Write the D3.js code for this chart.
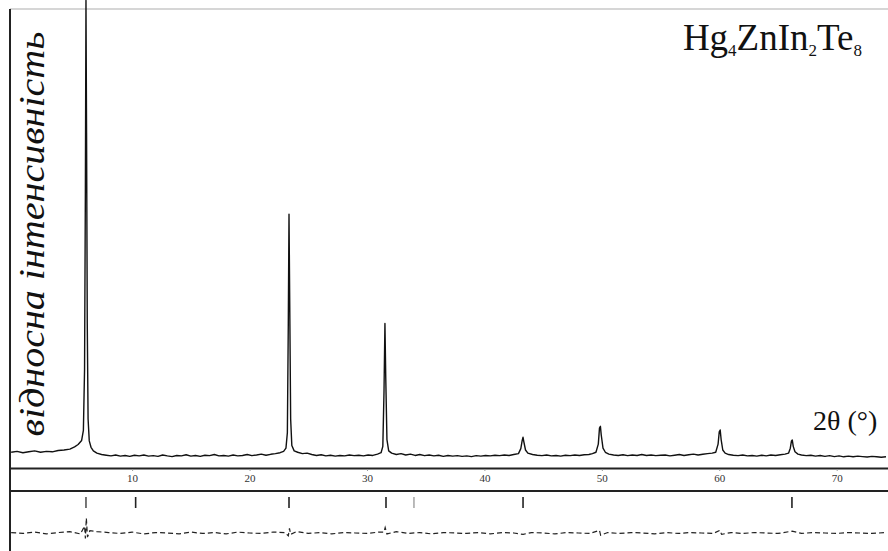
<!DOCTYPE html>
<html><head><meta charset="utf-8">
<script src="https://cdn.jsdelivr.net/npm/d3@7"></script>
<style>html,body{margin:0;padding:0;background:#fff;}svg{display:block;}</style>
</head><body>
<svg id="chart" width="888" height="551"></svg>
<script>
// ---- data ----
const tickLabels = [10, 20, 30, 40, 50, 60, 70];
const compound = ["Hg", "4", "Zn", "In", "2", "Te", "8"];
const yTitle = "відносна інтенсивність";
const xTitle = "2θ (°)";
// observed pattern [2θ, relative intensity]
const observed = [
 [-0.3,1.7],[0.2,1.9],[0.7,1.6],[1.2,1.8],[1.7,2.0],[2.2,1.7],[2.7,1.9],[3.2,1.8],[3.7,2.1],[4.2,2.2],[4.7,2.4],[5.1,2.9],[5.4,3.4],[5.7,4.3],[5.85,6.5],[5.95,20],[6.02,60],[6.07,101],[6.12,72],[6.18,30],[6.25,9],[6.35,4.2],[6.5,2.8],[6.7,2.0],
 [7.0,1.5],[7.4,1.2],[7.8,1.05],[8.2,0.9],[8.6,1.1],[9.0,0.85],[9.4,1.0],[9.8,0.8],[10.2,1.05],[10.6,0.9],[11.0,1.1],[11.4,0.85],[11.8,0.95],[12.2,0.8],[12.6,1.1],[13.0,0.9],[13.4,0.75],[13.8,1.0],[14.2,0.9],[14.6,1.15],[15.0,0.85],[15.4,1.0],[15.8,0.8],[16.2,1.05],[16.6,0.95],[17.0,1.2],[17.4,0.9],[17.8,1.0],[18.2,0.85],[18.6,1.1],[19.0,0.9],[19.4,1.0],[19.8,1.2],[20.2,0.95],[20.6,1.1],[21.0,1.3],[21.4,1.05],[21.8,1.25],[22.2,1.4],[22.6,1.6],[22.9,1.9],
 [23.1,2.6],[23.22,6],[23.3,30],[23.36,54],[23.42,35],[23.5,9],[23.6,3.2],[23.8,2.0],[24.1,1.7],[24.5,1.4],[24.9,1.5],[25.3,1.2],[25.7,1.0],[26.1,1.15],[26.5,0.9],[26.9,1.05],[27.3,0.85],[27.7,1.0],[28.1,0.9],[28.5,1.1],[28.9,0.95],[29.3,1.05],[29.7,0.9],[30.1,1.1],[30.5,1.0],[30.9,1.3],[31.2,1.6],
 [31.35,3],[31.45,15],[31.53,30],[31.6,18],[31.7,4.5],[31.85,2.0],[32.1,1.5],[32.5,1.2],[32.9,1.4],[33.3,1.1],[33.7,1.3],[34.1,1.0],[34.5,1.2],[34.9,0.95],[35.3,1.1],[35.7,0.9],[36.1,1.05],[36.5,0.8],[36.9,1.0],[37.3,0.85],[37.7,0.95],[38.1,0.8],[38.5,0.9],[38.9,0.75],[39.3,0.95],[39.7,0.85],[40.1,1.0],[40.5,0.9],[40.9,1.05],[41.3,0.95],[41.7,1.1],[42.1,1.0],[42.5,1.2],[42.9,1.4],
 [43.1,2.5],[43.22,4.3],[43.29,5.0],[43.36,4.0],[43.5,2.2],[43.7,1.5],[44.1,1.2],[44.5,1.05],[44.9,0.95],[45.3,1.1],[45.7,0.9],[46.1,1.0],[46.5,0.85],[46.9,1.05],[47.3,0.95],[47.7,1.1],[48.1,1.0],[48.5,1.15],[48.9,1.2],[49.2,1.4],[49.5,1.7],
 [49.7,3.5],[49.8,7.0],[49.88,7.4],[49.95,5.5],[50.1,2.6],[50.3,1.7],[50.6,1.3],[51.0,1.1],[51.4,1.0],[51.8,1.15],[52.2,0.95],[52.6,1.1],[53.0,1.0],[53.4,1.2],[53.8,1.0],[54.2,1.1],[54.6,0.95],[55.0,1.05],[55.4,1.1],[55.8,0.9],[56.2,1.05],[56.6,1.2],[57.0,1.0],[57.4,1.15],[57.8,1.3],[58.2,1.1],[58.6,1.25],[59.0,1.4],[59.4,1.5],
 [59.7,1.7],[59.9,3.5],[60.0,6.2],[60.08,6.6],[60.16,4.5],[60.3,2.2],[60.5,1.5],[60.8,1.2],[61.2,1.05],[61.6,0.95],[62.0,1.1],[62.4,0.9],[62.8,1.0],[63.2,0.85],[63.6,1.05],[64.0,0.9],[64.4,1.1],[64.8,1.0],[65.2,1.15],[65.6,1.3],[65.9,1.5],
 [66.05,2.6],[66.15,4.2],[66.22,4.4],[66.3,3.0],[66.45,1.8],[66.7,1.3],[67.0,1.1],[67.4,0.95],[67.8,1.05],[68.2,0.85],[68.6,1.0],[69.0,0.8],[69.4,0.95],[69.8,0.75],[70.2,0.9],[70.6,0.7],[71.0,0.85],[71.4,0.7],[71.8,0.85],[72.2,0.75],[72.6,0.65],[73.0,0.8],[73.4,0.7],[73.8,0.6],[74.2,0.7]
];
// Bragg reflection positions [2θ] and shade
const braggPositions = [6.07, 10.30, 23.36, 31.62, 34.0, 43.29, 66.19];
const braggShade = ["#555", "#222", "#222", "#222", "#aaa", "#222", "#222"];
// difference curve [2θ, value]
const difference = [
 [-0.3,0.1],[0.7,-0.1],[1.7,0.2],[2.7,-0.2],[3.7,0.1],[4.7,0.3],[5.6,-0.2],[5.95,1.5],[6.02,-1.2],[6.1,3.3],[6.2,-0.9],[6.4,0.5],[7.0,0.3],[8,0.1],[9,-0.1],[10,0.2],[11,-0.2],[12,0.1],[13,0.0],[14,-0.2],[15,0.2],[16,-0.1],[17,0.1],[18,-0.2],[19,0.2],[20,0.0],[21,-0.1],[22,0.2],[23.0,0.1],
 [23.3,-0.6],[23.4,1.0],[23.5,-0.3],[24,0.3],[25,-0.1],[26,0.1],[27,-0.2],[28,0.1],[29,0.0],[30,-0.1],[31,0.2],[31.45,0.2],[31.55,1.2],[31.7,-0.2],[32.5,0.3],[33.5,-0.1],[34.5,0.1],[35.5,-0.2],[36.5,0.1],[37.5,0.0],[38.5,-0.1],[39.5,0.1],[40.5,-0.2],[41.5,0.1],[42.5,0.0],[43.3,-0.3],[44,0.1],[45,0.0],[46,-0.2],[47,0.1],[48,0.0],[49,-0.1],
 [49.8,0.6],[49.9,-0.5],[50.5,0.1],[51.5,-0.1],[52.5,0.1],[53.5,0.0],[54.5,-0.2],[55.5,0.1],[56.5,-0.1],[57.5,0.1],[58.5,0.0],[59.5,-0.1],[60.05,0.6],[60.2,-0.3],[61,0.1],[62,-0.1],[63,0.1],[64,0.0],[65,-0.1],[66.2,0.4],[67,-0.1],[68,0.1],[69,0.0],[70,-0.1],[71,0.1],[72,0.0],[73,-0.1],[74.2,0.1]
];

// ---- drawing ----
const svg = d3.select("#chart");
const x = d3.scaleLinear().domain([-0.4, 74.2]).range([10, 886]);
const y = d3.scaleLinear().domain([0, 100]).range([460, 5]);
const yd = d3.scaleLinear().domain([-3.3, 3.3]).range([548, 518]);

// frame
svg.append("line").attr("x1",10).attr("x2",888).attr("y1",9).attr("y2",9).attr("stroke","#c8c8c8").attr("stroke-width",1.5);
svg.append("line").attr("x1",10).attr("x2",10).attr("y1",9).attr("y2",551).attr("stroke","#222").attr("stroke-width",2);

// observed line
const line = d3.line().x(d => x(d[0])).y(d => y(d[1]));
svg.append("path").datum(observed).attr("d", line).attr("fill","none").attr("stroke","#111").attr("stroke-width",1.4).attr("stroke-linejoin","round");

// axis band lines
svg.append("line").attr("x1",10).attr("x2",888).attr("y1",468.5).attr("y2",468.5).attr("stroke","#222").attr("stroke-width",2);
svg.append("line").attr("x1",10).attr("x2",888).attr("y1",491).attr("y2",491).attr("stroke","#222").attr("stroke-width",2);

// x axis
const axis = d3.axisBottom(x).tickValues(tickLabels).tickSize(2).tickPadding(3).tickFormat(d3.format("d"));
const ag = svg.append("g").attr("transform","translate(0,469)").call(axis);
ag.select(".domain").remove();
ag.selectAll("text").attr("font-family","Liberation Serif").attr("font-size",11).attr("fill","#333");
ag.selectAll("line").attr("stroke","#999");

// Bragg ticks
svg.append("g").selectAll("line").data(braggPositions).join("line")
  .attr("x1", d => x(d)).attr("x2", d => x(d)).attr("y1", 497).attr("y2", 508)
  .attr("stroke", (d,i) => braggShade[i]).attr("stroke-width", 1.6);

// difference curve
const dline = d3.line().x(d => x(d[0])).y(d => yd(d[1]));
svg.append("path").datum(difference).attr("d", dline).attr("fill","none").attr("stroke","#222").attr("stroke-width",1.2).attr("stroke-dasharray","5 3");

// y title
svg.append("text").attr("transform","translate(44,234) rotate(-90)").attr("text-anchor","middle")
  .attr("font-family","Liberation Serif").attr("font-style","italic").attr("font-size",36)
  .attr("textLength",405).attr("lengthAdjust","spacingAndGlyphs").attr("fill","#111").text(yTitle);

// compound title
const t = svg.append("text").attr("x",862).attr("y",50).attr("text-anchor","end")
  .attr("font-family","Liberation Serif").attr("font-size",37).attr("fill","#111");
compound.forEach((s, i) => {
  const isSub = /^\d+$/.test(s);
  const prevSub = i > 0 && /^\d+$/.test(compound[i-1]);
  t.append("tspan").attr("font-size", isSub ? 17 : 37).attr("dy", isSub ? 6 : (prevSub ? -6 : 0)).text(s);
});

// x title
svg.append("text").attr("x",813).attr("y",430).attr("font-family","Liberation Serif").attr("font-size",28).attr("fill","#111").text(xTitle);
</script>
</body></html>
